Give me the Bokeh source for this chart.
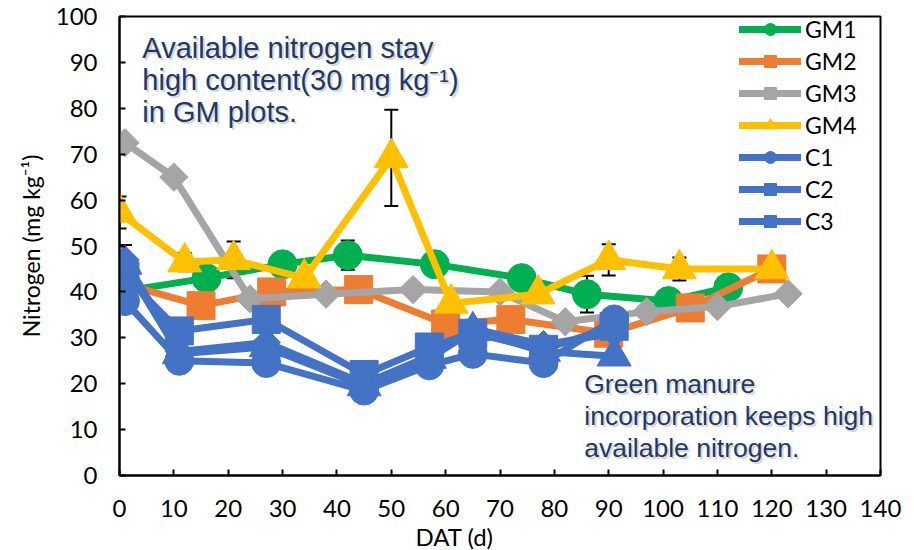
from bokeh.plotting import figure
from bokeh.models import (ColumnDataSource, Whisker, TeeHead, Label, Legend,
                          LegendItem, FixedTicker, Range1d, Title)
from bokeh.embed import file_html
from bokeh.resources import INLINE

# Days after transplanting (DAT) and available nitrogen (mg kg-1)
gm1_day = [0, 16, 30, 42, 58, 74, 86, 101, 112]
gm1_n = [40, 43, 46, 48, 46, 43, 39.5, 38, 41]
gm1_err = [0, 0, 0, 3.2, 0, 0, 4, 0, 0]

gm2_day = [0, 15, 28, 44, 60, 72, 90, 105, 120]
gm2_n = [42, 37, 40, 40.5, 33, 34, 31, 36.5, 45]

gm3_day = [1, 10, 24, 38, 54, 70, 82, 97, 110, 123]
gm3_n = [72.5, 65, 38.5, 39.5, 40.5, 40, 33.5, 35.7, 36.8, 39.6]

gm4_day = [0, 12, 21, 34, 50, 61, 77, 90, 103, 120]
gm4_n = [57.3, 46.5, 47, 43, 69.2, 37.5, 39.5, 47, 45, 45]
gm4_err = [3.5, 2, 4, 0, 10.5, 0, 0, 3.4, 2.5, 0]

c_day = [1, 11, 27, 45, 57, 65, 78, 91]
c1_n = [38, 25, 24.5, 18.5, 24, 26.5, 24.5, 34]
c2_n = [43.5, 31.5, 34, 22, 28, 31, 27.5, 32.5]
c3_n = [47, 27, 29, 20, 26, 32, 28.5, 31]
c3_err = [3.2, 0, 0, 0, 0, 0, 0, 0]
c4_n = [46, 26.5, 28, 19.5, 25.5, 31.5, 27, 26]

x_ticks = list(range(0, 141, 10))
y_ticks = list(range(0, 101, 10))

GREEN, ORANGE, GREY, GOLD, BLUE = "#00B050", "#ED7D31", "#A5A5A5", "#FFC000", "#4472C4"
TICK_FONT = "Lato"
NOTE_FONT = "Liberation Sans"
NOTE_COLOR = "#1F3864"

p = figure(width=914, height=550, output_backend="svg", toolbar_location=None,
           x_range=Range1d(0, 140), y_range=Range1d(0, 100),
           min_border_left=119, min_border_right=34, min_border_top=16,
           min_border_bottom=72)
p.title = None
p.xgrid.visible = False
p.ygrid.visible = False
p.outline_line_color = "black"
p.outline_line_width = 2
p.background_fill_color = "white"
p.border_fill_color = "white"

for ax in (p.xaxis[0], p.yaxis[0]):
    ax.axis_line_color = "black"
    ax.axis_line_width = 2
    ax.major_tick_line_color = "black"
    ax.major_tick_line_width = 2
    ax.major_tick_in = 6
    ax.major_tick_out = 0
    ax.minor_tick_line_color = None
    ax.major_label_text_font = TICK_FONT
    ax.major_label_text_font_size = "24px"
    ax.major_label_text_color = "black"

p.xaxis.ticker = FixedTicker(ticks=x_ticks)
p.yaxis.ticker = FixedTicker(ticks=y_ticks)
p.xaxis.major_label_standoff = 24
p.yaxis.major_label_standoff = 22

p.yaxis.axis_label = "Nitrogen (mg kg\u207b\u00b9)"
p.yaxis.axis_label_text_font = TICK_FONT
p.yaxis.axis_label_text_font_size = "23px"
p.yaxis.axis_label_text_font_style = "normal"
p.yaxis.axis_label_text_color = "black"
p.yaxis.axis_label_standoff = 8

# x-axis title sits left of the frame centre
p.add_layout(Title(text="DAT (d)", align="left", offset=296, standoff=0,
                   text_font=TICK_FONT, text_font_size="24px",
                   text_font_style="normal", text_color="black"), "below")


def error_bars(days, vals, errs):
    keep = [i for i, e in enumerate(errs) if e > 0]
    src = ColumnDataSource(dict(
        x=[days[i] for i in keep],
        lo=[vals[i] - errs[i] for i in keep],
        hi=[vals[i] + errs[i] for i in keep]))
    w = Whisker(source=src, base="x", lower="lo", upper="hi", dimension="height",
                line_color="black", line_width=2, level="underlay",
                upper_head=TeeHead(size=14, line_color="black", line_width=2),
                lower_head=TeeHead(size=14, line_color="black", line_width=2))
    p.add_layout(w)


error_bars(gm1_day, gm1_n, gm1_err)
error_bars(gm4_day, gm4_n, gm4_err)
error_bars(c_day, c3_n, c3_err)

series = [
    ("GM1", gm1_day, gm1_n, GREEN, "circle", 29, 0.0),
    ("GM2", gm2_day, gm2_n, ORANGE, "square", 28, 0.0),
    ("GM3", gm3_day, gm3_n, GREY, "square", 20, 0.785398),
    ("GM4", gm4_day, gm4_n, GOLD, "triangle", 34, 0.0),
    ("C1", c_day, c1_n, BLUE, "circle", 29, 0.0),
    ("C2", c_day, c2_n, BLUE, "square", 28, 0.0),
    ("C3", c_day, c3_n, BLUE, "square", 20, 0.785398),
    (None, c_day, c4_n, BLUE, "triangle", 34, 0.0),
]

items = []
for name, xs, ys, color, marker, size, angle in series:
    src = ColumnDataSource(dict(x=xs, y=ys))
    ln = p.line("x", "y", source=src, line_color=color, line_width=7,
                line_cap="round", line_join="round")
    sc = p.scatter("x", "y", source=src, marker=marker, size=size, angle=angle,
                   fill_color=color, line_color=color)
    if name is not None:
        items.append(LegendItem(label=name, renderers=[ln, sc]))

legend = Legend(items=items, location=(620, 239))
legend.label_text_font = TICK_FONT
legend.label_text_font_size = "23px"
legend.label_text_color = "black"
legend.label_height = 30
legend.glyph_width = 62
legend.glyph_height = 30
legend.label_standoff = 4
legend.spacing = 2
legend.padding = 0
legend.margin = 0
legend.border_line_color = None
legend.background_fill_alpha = 0
p.add_layout(legend)


def note(x, y, text, size):
    p.add_layout(Label(x=x, y=y, text=text, x_offset=2, y_offset=-2,
                       text_font=NOTE_FONT, text_font_size=size,
                       text_color="#888888", text_alpha=0.35,
                       text_baseline="middle", text_align="left"))
    p.add_layout(Label(x=x, y=y, text=text,
                       text_font=NOTE_FONT, text_font_size=size,
                       text_color=NOTE_COLOR,
                       text_baseline="middle", text_align="left"))


note(4.2, 93.1, "Available nitrogen stay", "29px")
note(4.2, 86.1, "high content(30 mg kg\u207b\u00b9)", "29px")
note(4.2, 79.2, "in GM plots.", "29px")
note(85.5, 19.9, "Green manure", "26.5px")
note(85.5, 13.0, "incorporation keeps high", "26.5px")
note(85.5, 6.1, "available nitrogen.", "26.5px")

open("out.html", "w").write(file_html(p, INLINE))
